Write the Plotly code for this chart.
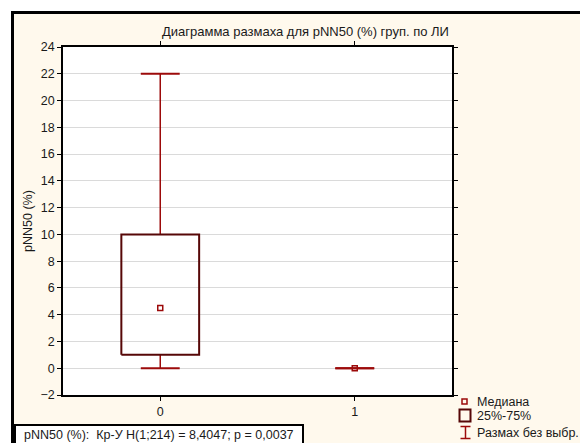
import plotly.graph_objects as go

# Group labels and box-plot statistics for pNN50 (%)
groups = ["0", "1"]
group_pos = [0, 1]
medians = [4.5, 0.0]
q1 = [1.0, 0.0]
q3 = [10.0, 0.0]
whisker_lo = [0.0, 0.0]
whisker_hi = [22.0, 0.0]

y_ticks = list(range(-2, 25, 2))

BOX_HALF = 0.2
CAP_HALF = 0.1
WHISKER_COLOR = "#9c0a0a"
BOX_COLOR = "#560707"
FONT = "Liberation Sans, Arial, sans-serif"
TEXT_COLOR = "#1a1a1a"
FS = 12.5

# plot area in pixels (used to place decorations in paper space)
W, H = 580, 443
L, R, T, B = 63, 452, 47, 395


def px_x(px):
    return (px - L) / (R - L)


def px_y(py):
    return (B - py) / (B - T)


fig = go.Figure()

# whisker stems
wx, wy = [], []
for x, lo, a, b, hi in zip(group_pos, whisker_lo, q1, q3, whisker_hi):
    wx += [x, x, None, x, x, None]
    wy += [lo, a, None, b, hi, None]
fig.add_trace(go.Scatter(x=wx, y=wy, mode="lines",
                         line=dict(color=WHISKER_COLOR, width=1.5),
                         hoverinfo="skip", showlegend=False))

# whisker caps
cx, cy = [], []
for x, lo, hi in zip(group_pos, whisker_lo, whisker_hi):
    cx += [x - CAP_HALF, x + CAP_HALF, None, x - CAP_HALF, x + CAP_HALF, None]
    cy += [lo, lo, None, hi, hi, None]
fig.add_trace(go.Scatter(x=cx, y=cy, mode="lines",
                         line=dict(color=WHISKER_COLOR, width=2),
                         hoverinfo="skip", showlegend=False))

# interquartile boxes (only where the box has height)
bx, by = [], []
for x, a, b in zip(group_pos, q1, q3):
    if b > a:
        bx += [x - BOX_HALF, x + BOX_HALF, x + BOX_HALF, x - BOX_HALF, x - BOX_HALF, None]
        by += [a, a, b, b, a, None]
fig.add_trace(go.Scatter(x=bx, y=by, mode="lines",
                         line=dict(color=BOX_COLOR, width=2),
                         hoverinfo="skip", showlegend=False))

# medians
fig.add_trace(go.Scatter(x=group_pos, y=medians, mode="markers",
                         marker=dict(symbol="square-open", size=5,
                                     color=WHISKER_COLOR,
                                     line=dict(width=1.5, color=WHISKER_COLOR)),
                         hoverinfo="skip", showlegend=False))

shapes = [
    # outer cream frame
    dict(type="rect", xref="paper", yref="paper", layer="below",
         x0=px_x(12.5), x1=px_x(620), y0=px_y(470), y1=px_y(12.5),
         fillcolor="#fff9ed", line=dict(color="#000000", width=3)),
    # white plotting area
    dict(type="rect", xref="paper", yref="paper", layer="below",
         x0=0, x1=1, y0=0, y1=1, fillcolor="#ffffff", line=dict(width=0)),
    # statistics box
    dict(type="rect", xref="paper", yref="paper", layer="above",
         x0=px_x(15), x1=px_x(303), y0=px_y(470), y1=px_y(425),
         fillcolor="#ffffff", line=dict(color="#000000", width=2)),
    # legend: median marker
    dict(type="rect", xref="paper", yref="paper", layer="above",
         x0=px_x(462), x1=px_x(467), y0=px_y(404), y1=px_y(399),
         fillcolor="rgba(0,0,0,0)", line=dict(color=WHISKER_COLOR, width=1.5)),
    # legend: box
    dict(type="rect", xref="paper", yref="paper", layer="above",
         x0=px_x(459.5), x1=px_x(470.5), y0=px_y(421.5), y1=px_y(409.5),
         fillcolor="rgba(0,0,0,0)", line=dict(color=BOX_COLOR, width=2)),
    # legend: whisker
    dict(type="line", xref="paper", yref="paper", layer="above",
         x0=px_x(465.5), x1=px_x(465.5), y0=px_y(438.5), y1=px_y(426.5),
         line=dict(color=WHISKER_COLOR, width=1.5)),
    dict(type="line", xref="paper", yref="paper", layer="above",
         x0=px_x(460.5), x1=px_x(470.5), y0=px_y(426.5), y1=px_y(426.5),
         line=dict(color=WHISKER_COLOR, width=1.5)),
    dict(type="line", xref="paper", yref="paper", layer="above",
         x0=px_x(460.5), x1=px_x(470.5), y0=px_y(438.5), y1=px_y(438.5),
         line=dict(color=WHISKER_COLOR, width=1.5)),
]

annotations = [
    dict(text="Диаграмма размаха для pNN50 (%) груп. по ЛИ",
         xref="paper", yref="paper", x=px_x(305.5), y=px_y(31),
         xanchor="center", yanchor="middle", showarrow=False,
         font=dict(family=FONT, size=13, color=TEXT_COLOR)),
    dict(text="pNN50 (%):  Кр-У H(1;214) = 8,4047; p = 0,0037",
         xref="paper", yref="paper", x=px_x(22), y=px_y(435),
         xanchor="left", yanchor="middle", showarrow=False,
         font=dict(family=FONT, size=FS, color=TEXT_COLOR)),
    dict(text="Медиана", xref="paper", yref="paper", x=px_x(475), y=px_y(401.5),
         xanchor="left", yanchor="middle", showarrow=False,
         font=dict(family=FONT, size=FS, color=TEXT_COLOR)),
    dict(text="25%-75%", xref="paper", yref="paper", x=px_x(475), y=px_y(415.5),
         xanchor="left", yanchor="middle", showarrow=False,
         font=dict(family=FONT, size=FS, color=TEXT_COLOR)),
    dict(text="Размах без выбр.", xref="paper", yref="paper", x=px_x(475), y=px_y(433),
         xanchor="left", yanchor="middle", showarrow=False,
         font=dict(family=FONT, size=FS, color=TEXT_COLOR)),
]

fig.update_layout(
    width=W, height=H,
    margin=dict(l=L, r=W - R, t=T, b=H - B, pad=0),
    paper_bgcolor="#ffffff",
    plot_bgcolor="rgba(0,0,0,0)",
    font=dict(family=FONT, size=FS, color=TEXT_COLOR),
    shapes=shapes,
    annotations=annotations,
    showlegend=False,
)

fig.update_xaxes(
    range=[-0.5, 1.5], tickvals=group_pos, ticktext=groups,
    showgrid=False, zeroline=False,
    showline=True, linecolor="#000000", linewidth=1.5, mirror="ticks",
    ticks="outside", ticklen=4, tickcolor="#000000",
    tickfont=dict(family=FONT, size=FS, color=TEXT_COLOR),
)
fig.update_yaxes(
    range=[-2, 24], tickvals=y_ticks,
    showgrid=True, gridcolor="#dadada", gridwidth=1, zeroline=False,
    showline=True, linecolor="#000000", linewidth=1.5, mirror="ticks",
    ticks="outside", ticklen=4, tickcolor="#000000",
    tickfont=dict(family=FONT, size=FS, color=TEXT_COLOR),
    title=dict(text="pNN50 (%)", standoff=5,
               font=dict(family=FONT, size=FS, color=TEXT_COLOR)),
)

fig.write_html("out.html")
